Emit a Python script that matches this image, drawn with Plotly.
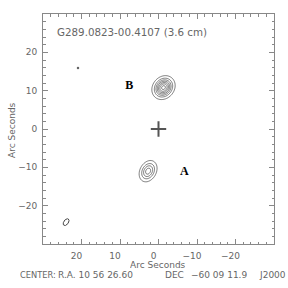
import numpy as np
import plotly.graph_objects as go

# ---- data ----
title_text = "G289.0823-00.4107 (3.6 cm)"
tick_vals = [20, 10, 0, -10, -20]
tick_text = ["20", "10", "0", "\u221210", "\u221220"]

# emission components: x0, y0, peak, sigma_major, sigma_minor, angle(deg, data coords)
src_names = ["B", "A"]
src_x = [-1.3, 2.7]
src_y = [10.8, -11.0]
src_peak = [10.0, 6.0]
src_smaj = [1.55, 1.55]
src_smin = [1.3, 1.12]
src_ang = [130.0, 118.0]
contour_start = 1.0
contour_step = 1.4

label_names = ["A", "B"]
label_x = [-6.7, 7.6]
label_y = [-11.2, 11.2]

dot_x = [20.9]
dot_y = [15.9]

cross_x = [0.0]
cross_y = [0.0]

beam_x0, beam_y0 = 24.0, -24.3
beam_major, beam_minor, beam_ang = 1.0, 0.6, 125.0

center_parts = ["CENTER:", "R.A. 10 56 26.60", "DEC", "\u221260 09 11.9", "J2000"]
center_px = [19, 57, 164, 190, 287]
center_anchor = ["left", "left", "left", "left", "right"]

# ---- build image ----
gx = np.arange(-30, 30.001, 0.2)
gy = np.arange(-30, 30.001, 0.2)
X, Y = np.meshgrid(gx, gy)
Z = np.zeros_like(X)
for x0, y0, pk, sa, sb, ang in zip(src_x, src_y, src_peak, src_smaj, src_smin, src_ang):
    t = np.deg2rad(ang)
    dx, dy = X - x0, Y - y0
    u = dx * np.cos(t) + dy * np.sin(t)
    v = -dx * np.sin(t) + dy * np.cos(t)
    Z += pk * np.exp(-0.5 * ((u / sa) ** 2 + (v / sb) ** 2))

fig = go.Figure()
fig.add_trace(go.Contour(
    x=gx, y=gy, z=Z,
    contours=dict(start=contour_start, end=9.5, size=contour_step, coloring="lines"),
    colorscale=[[0, "#555555"], [1, "#555555"]],
    line=dict(width=0.8), showscale=False, hoverinfo="skip",
))

# beam ellipse
tt = np.linspace(0, 2 * np.pi, 60)
ba = np.deg2rad(beam_ang)
ex = beam_x0 + beam_major * np.cos(tt) * np.cos(ba) - beam_minor * np.sin(tt) * np.sin(ba)
ey = beam_y0 + beam_major * np.cos(tt) * np.sin(ba) + beam_minor * np.sin(tt) * np.cos(ba)
fig.add_trace(go.Scatter(x=ex, y=ey, mode="lines", line=dict(color="#444444", width=1), showlegend=False))

fig.add_trace(go.Scatter(x=dot_x, y=dot_y, mode="markers",
                         marker=dict(size=2.5, color="#666666"), showlegend=False))
fig.add_trace(go.Scatter(x=cross_x, y=cross_y, mode="markers",
                         marker=dict(symbol="cross-thin", size=11,
                                     line=dict(color="#555555", width=2)), showlegend=False))
fig.add_trace(go.Scatter(x=label_x, y=label_y, mode="text", text=label_names,
                         textfont=dict(family="Liberation Serif", size=12, color="black", weight="bold"),
                         showlegend=False))

L, R, T, B = 43, 14, 14, 44
W = 288 - L - R
H = 288 - T - B

axis_common = dict(
    showgrid=False, zeroline=False, showline=True, linecolor="#888888", linewidth=1,
    mirror="ticks", ticks="inside", ticklen=5, tickcolor="#888888", tickwidth=1,
    tickfont=dict(family="DejaVu Sans", size=9, color="#666666"),
    minor=dict(ticks="inside", ticklen=2.5, dtick=2, tickcolor="#888888", tickwidth=1),
    tickvals=tick_vals, ticktext=tick_text,
)
fig.update_xaxes(range=[30, -30], **axis_common, ticklabelshift=5, ticklabelstandoff=3)
fig.update_yaxes(range=[-30, 30], **axis_common, ticklabelstandoff=3)

anns = []
def px2paper(px, py):
    return (px - L) / W, (288 - B - py) / H

ax, ay = px2paper(55, 32)
anns.append(dict(x=ax, y=ay, xref="paper", yref="paper", text=title_text, showarrow=False,
                 xanchor="left", yanchor="middle",
                 font=dict(family="DejaVu Sans", size=10.3, color="#666666")))
ax, ay = px2paper(158, 264.5)
anns.append(dict(x=ax, y=ay, xref="paper", yref="paper", text="Arc Seconds", showarrow=False,
                 xanchor="center", yanchor="middle", height=10, borderpad=0,
                 font=dict(family="DejaVu Sans", size=9, color="#666666")))
ax, ay = px2paper(12, 130)
anns.append(dict(x=ax, y=ay, xref="paper", yref="paper", text="Arc Seconds", showarrow=False,
                 xanchor="center", yanchor="middle", textangle=-90,
                 font=dict(family="DejaVu Sans", size=9, color="#666666")))
for txt, p, anc in zip(center_parts, center_px, center_anchor):
    ax, ay = px2paper(p, 274.5)
    anns.append(dict(x=ax, y=ay, xref="paper", yref="paper", text=txt, showarrow=False,
                     xanchor=anc, yanchor="middle", height=10, borderpad=0,
                     font=dict(family="DejaVu Sans", size=8.3 if txt == "CENTER:" else 9,
                               color="#666666")))

fig.update_layout(
    width=288, height=288, margin=dict(l=L, r=R, t=T, b=B),
    paper_bgcolor="white", plot_bgcolor="white", showlegend=False,
    annotations=anns,
)
fig.write_html("out.html")
